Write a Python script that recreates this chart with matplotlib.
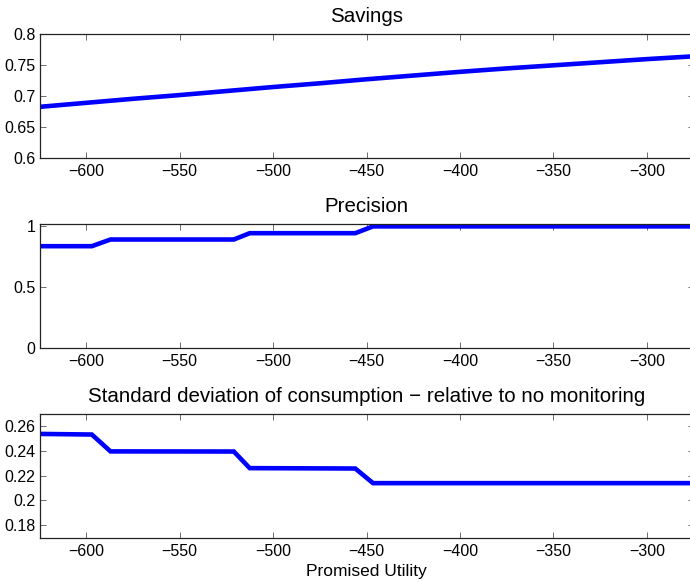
import matplotlib
matplotlib.use("Agg")
import matplotlib.pyplot as plt
from matplotlib.ticker import FuncFormatter

plt.rcParams['font.family'] = ['Liberation Sans', 'DejaVu Sans']

# Data
sav_u = [-625, -600, -575, -550, -525, -500, -475, -450, -425, -400, -375, -350, -325, -300, -275]
sav_v = [0.682, 0.6885, 0.695, 0.701, 0.7075, 0.714, 0.720, 0.7265, 0.7325, 0.7385, 0.744, 0.749, 0.754, 0.759, 0.7635]

prec_u = [-625, -597, -587, -521, -512.5, -456, -446.5, -275]
prec_v = [0.835, 0.835, 0.890, 0.890, 0.942, 0.942, 0.998, 0.998]

std_u = [-625, -597, -587, -521, -512.5, -456, -446.5, -275]
std_v = [0.2537, 0.2532, 0.2396, 0.2395, 0.2261, 0.2258, 0.2140, 0.2140]

titles = ["Savings", "Precision", "Standard deviation of consumption \u2212 relative to no monitoring"]
xticks = [-600, -550, -500, -450, -400, -350, -300]
yticks_list = [[0.6, 0.65, 0.7, 0.75, 0.8], [0, 0.5, 1], [0.18, 0.2, 0.22, 0.24, 0.26]]
ylims = [(0.6, 0.8), (0, 1.02), (0.17, 0.27)]

fig = plt.figure(figsize=(6.9, 5.82), dpi=100)
left = 39.5 / 690
width = 654 / 690
h = 124 / 582
bottoms = [1 - 157.7 / 582, 1 - 347.7 / 582, 1 - 537.7 / 582]
series = [(sav_u, sav_v), (prec_u, prec_v), (std_u, std_v)]

def fmt(v, pos):
    s = ('%.2f' % v).rstrip('0').rstrip('.')
    if s == '-0':
        s = '0'
    return s.replace('-', '\u2212')

for i in range(3):
    ax = fig.add_axes([left, bottoms[i], width, h])
    u, v = series[i]
    ax.plot(u, v, color=(0, 0, 1), lw=3.3, solid_joinstyle='miter')
    ax.set_xlim(-625, -275)
    ax.set_ylim(*ylims[i])
    ax.set_xticks(xticks)
    ax.set_yticks(yticks_list[i])
    ax.xaxis.set_major_formatter(FuncFormatter(fmt))
    ax.yaxis.set_major_formatter(FuncFormatter(fmt))
    ax.tick_params(direction='in', top=True, right=True, length=4.3, width=0.5,
                   labelsize=11.5, color='#333333')
    ax.tick_params(axis='x', pad=4.5)
    ax.tick_params(axis='y', pad=3)
    for sp in ax.spines.values():
        sp.set_linewidth(0.9)
        sp.set_color('#222222')
    ax.set_title(titles[i], fontsize=14.8, pad=8.5)
    if i == 2:
        ax.set_xlabel("Promised Utility", fontsize=12.5, labelpad=3.5)

fig.savefig("out.png", dpi=100)
